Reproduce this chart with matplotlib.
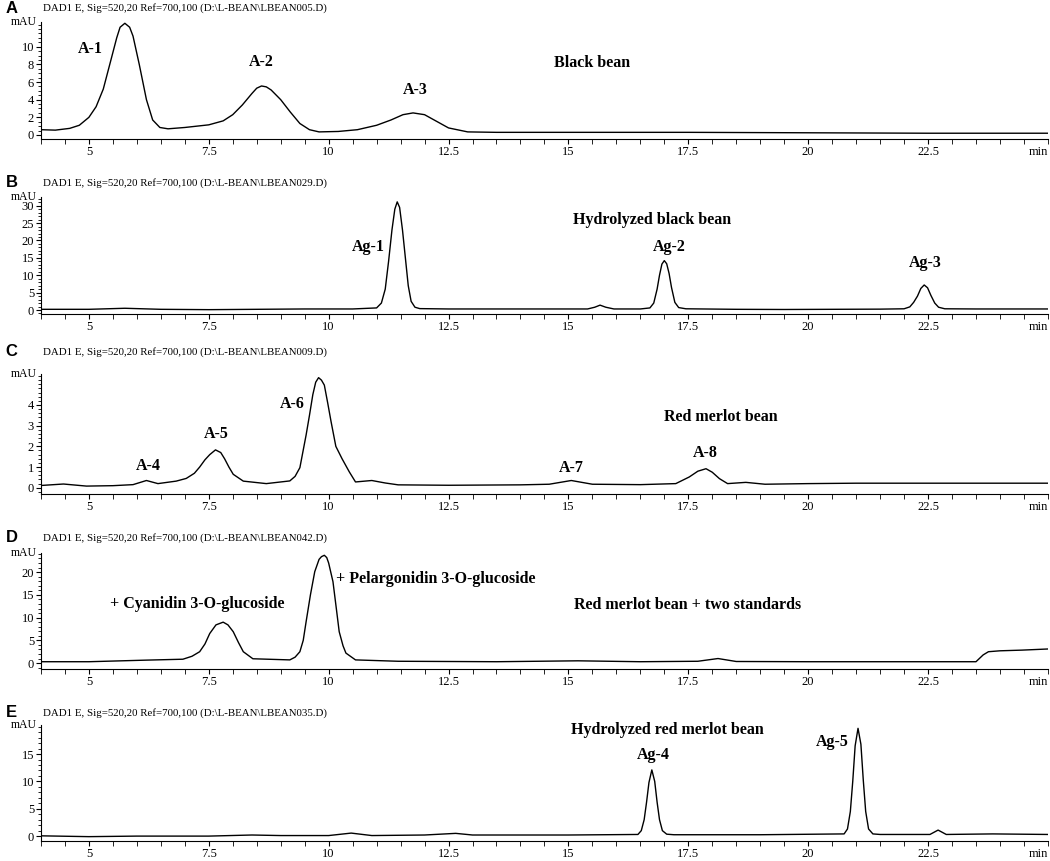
import matplotlib
matplotlib.use('Agg')
import matplotlib.pyplot as plt
from matplotlib.ticker import MultipleLocator

# Chromatogram traces (time in min, signal in mAU)
a_time = [4.0, 4.3, 4.6, 4.8, 5.0, 5.15, 5.3, 5.45, 5.58, 5.65, 5.75, 5.85, 5.92, 6.05, 6.2, 6.33, 6.48, 6.65,
          7.0, 7.5, 7.8, 8.0, 8.2, 8.4, 8.5, 8.6, 8.7, 8.8, 9.0, 9.2, 9.4, 9.6, 9.8, 10.2, 10.6, 11.0, 11.3,
          11.55, 11.76, 12.0, 12.2, 12.5, 12.9, 13.5, 15.0, 17.5, 20.0, 22.5, 25.0]
a_mau = [0.6, 0.55, 0.75, 1.1, 2.0, 3.2, 5.2, 8.3, 11.0, 12.2, 12.65, 12.2, 11.2, 8.0, 4.0, 1.7, 0.85, 0.7,
         0.85, 1.15, 1.6, 2.3, 3.4, 4.7, 5.3, 5.55, 5.45, 5.1, 4.0, 2.6, 1.3, 0.6, 0.35, 0.4, 0.6, 1.1, 1.7,
         2.3, 2.5, 2.3, 1.7, 0.8, 0.35, 0.3, 0.3, 0.3, 0.25, 0.2, 0.2]

b_time = [4.0, 5.0, 5.75, 6.5, 7.5, 8.5, 9.5, 10.5, 11.0, 11.1, 11.18, 11.25, 11.32, 11.38, 11.43, 11.48,
          11.54, 11.6, 11.66, 11.72, 11.8, 11.9, 12.5, 13.5, 14.5, 15.4, 15.55, 15.66, 15.78, 15.95, 16.5,
          16.7, 16.78, 16.85, 16.9, 16.95, 17.0, 17.05, 17.1, 17.15, 17.22, 17.3, 17.45, 18.5, 19.5, 20.5,
          21.5, 22.0, 22.12, 22.2, 22.28, 22.35, 22.42, 22.49, 22.56, 22.64, 22.72, 22.85, 23.5, 25.0]
b_mau = [0.2, 0.2, 0.5, 0.2, 0.1, 0.2, 0.3, 0.3, 0.6, 2.0, 6.0, 14.0, 23.0, 29.0, 31.1, 29.5,
         23.0, 15.0, 7.0, 2.5, 0.8, 0.4, 0.3, 0.3, 0.3, 0.3, 0.8, 1.4, 0.8, 0.3, 0.3,
         0.6, 2.0, 6.0, 10.0, 13.2, 14.2, 13.3, 10.5, 6.5, 2.2, 0.7, 0.35, 0.2, 0.15, 0.2,
         0.25, 0.35, 0.9, 2.2, 4.0, 6.2, 7.2, 6.4, 4.2, 2.0, 0.8, 0.35, 0.3, 0.3]

c_time = [4.0, 4.47, 4.95, 5.5, 5.92, 6.2, 6.44, 6.82, 7.03, 7.2, 7.31, 7.42, 7.52, 7.64, 7.75, 7.83, 7.92,
          8.01, 8.22, 8.7, 9.19, 9.3, 9.4, 9.53, 9.6, 9.67, 9.73, 9.79, 9.85, 9.91, 9.98, 10.05, 10.15,
          10.28, 10.43, 10.56, 10.9, 11.18, 11.45, 12.5, 14.0, 14.6, 15.06, 15.5, 16.5, 17.24, 17.52,
          17.7, 17.87, 18.0, 18.15, 18.32, 18.7, 19.1, 20.0, 21.0, 22.5, 25.0]
c_mau = [0.11, 0.18, 0.08, 0.1, 0.15, 0.35, 0.2, 0.32, 0.45, 0.7, 1.0, 1.35, 1.6, 1.83, 1.7, 1.4, 1.0,
         0.65, 0.32, 0.2, 0.33, 0.55, 0.97, 2.55, 3.5, 4.5, 5.1, 5.32, 5.2, 4.96, 4.1, 3.2, 2.0,
         1.4, 0.77, 0.28, 0.35, 0.23, 0.14, 0.12, 0.14, 0.17, 0.35, 0.17, 0.15, 0.2, 0.52,
         0.8, 0.92, 0.75, 0.44, 0.2, 0.26, 0.17, 0.2, 0.22, 0.22, 0.22]

d_time = [4.0, 5.0, 6.2, 6.96, 7.15, 7.31, 7.42, 7.52, 7.65, 7.8, 7.9, 8.01, 8.12, 8.22, 8.42, 9.19, 9.3,
          9.4, 9.47, 9.53, 9.62, 9.71, 9.8, 9.85, 9.91, 9.96, 10.0, 10.09, 10.16, 10.22, 10.3, 10.36,
          10.56, 11.45, 13.5, 15.2, 16.5, 17.7, 18.12, 18.5, 20.0, 23.5, 23.55, 23.65, 23.76, 24.0,
          24.46, 25.0]
d_mau = [0.3, 0.3, 0.65, 0.85, 1.5, 2.5, 4.2, 6.5, 8.4, 9.0, 8.4, 6.9, 4.5, 2.5, 0.95, 0.7, 1.3,
         2.5, 5.0, 9.1, 15.0, 20.1, 22.8, 23.4, 23.7, 23.2, 22.0, 17.9, 12.0, 6.9, 3.8, 2.2,
         0.7, 0.4, 0.3, 0.5, 0.3, 0.4, 1.0, 0.35, 0.3, 0.3, 0.8, 1.8, 2.5, 2.7,
         2.85, 3.1]

e_time = [4.0, 5.0, 6.0, 7.5, 8.4, 9.0, 10.0, 10.47, 10.9, 12.0, 12.65, 13.0, 15.0, 16.45, 16.52, 16.58,
          16.63, 16.68, 16.74, 16.8, 16.85, 16.9, 16.96, 17.05, 17.2, 19.0, 20.75, 20.82, 20.88, 20.93,
          20.98, 21.04, 21.1, 21.15, 21.2, 21.26, 21.35, 21.5, 22.4, 22.54, 22.71, 22.88, 23.85, 25.0]
e_mau = [0.05, -0.1, 0.0, 0.0, 0.2, 0.1, 0.1, 0.55, 0.1, 0.2, 0.5, 0.2, 0.2, 0.3, 1.0, 3.0,
         6.2, 9.8, 12.1, 10.0, 6.2, 3.0, 1.0, 0.35, 0.25, 0.25, 0.4, 1.3, 4.5, 10.0,
         16.5, 19.7, 16.8, 10.2, 4.5, 1.3, 0.4, 0.3, 0.3, 0.3, 1.1, 0.3, 0.4, 0.3]

files = ['LBEAN005', 'LBEAN029', 'LBEAN009', 'LBEAN042', 'LBEAN035']
letters = ['A', 'B', 'C', 'D', 'E']
ylims = [(-0.45, 12.8), (-1.15, 32.5), (-0.3, 5.5), (-1.3, 24.2), (-0.9, 20.3)]
ysteps = [(2, 0.5), (5, 1), (1, 0.2), (5, 1), (5, 1)]

# peak / sample labels: (text, time, mAU)
labels = [
    [('A-1', 5.04, 9.7), ('A-2', 8.6, 8.3), ('A-3', 11.8, 5.1), ('Black bean', 15.5, 8.2)],
    [('Ag-1', 10.82, 18.2), ('Hydrolyzed black bean', 16.75, 25.9), ('Ag-2', 17.1, 18.2), ('Ag-3', 22.44, 13.5)],
    [('A-4', 6.24, 1.07), ('A-5', 7.66, 2.59), ('A-6', 9.24, 4.03), ('A-7', 15.06, 0.95),
     ('A-8', 17.85, 1.67), ('Red merlot bean', 18.18, 3.44)],
    [('+ Cyanidin 3-O-glucoside', 7.27, 13.1), ('+ Pelargonidin 3-O-glucoside', 12.23, 18.5),
     ('Red merlot bean + two standards', 17.48, 12.7)],
    [('Hydrolyzed red merlot bean', 17.06, 19.4), ('Ag-4', 16.76, 14.9), ('Ag-5', 20.5, 17.2)],
]

traces = [(a_time, a_mau), (b_time, b_mau), (c_time, c_mau), (d_time, d_mau), (e_time, e_mau)]

# axes boxes in figure fraction (left, bottom, width, height)
boxes = [(0.039, 0.8386, 0.959, 0.1359),
         (0.039, 0.6353, 0.959, 0.1359),
         (0.039, 0.4263, 0.959, 0.1394),
         (0.039, 0.2230, 0.959, 0.1347),
         (0.039, 0.0232, 0.959, 0.1347)]
title_y = [0.9907, 0.7875, 0.5912, 0.3752, 0.1719]

serif = 'Liberation Serif'

fig = plt.figure(figsize=(10.5, 8.61), dpi=100)

for i in range(5):
    ax = fig.add_axes(boxes[i])
    t, y = traces[i]
    ax.plot(t, y, color='black', lw=1.0, solid_joinstyle='round')
    ax.set_xlim(4, 25)
    ax.set_ylim(*ylims[i])
    for s in ['top', 'right']:
        ax.spines[s].set_visible(False)
    ax.spines['left'].set_linewidth(0.8)
    ax.spines['bottom'].set_linewidth(0.8)
    ax.xaxis.set_minor_locator(MultipleLocator(0.5))
    ax.yaxis.set_minor_locator(MultipleLocator(ysteps[i][1]))
    ax.set_xticks([5, 7.5, 10, 12.5, 15, 17.5, 20, 22.5])
    ax.set_xticklabels(['5', '7.5', '10', '12.5', '15', '17.5', '20', '22.5'])
    yt = [v for v in range(0, int(ylims[i][1]), ysteps[i][0])]
    ax.set_yticks(yt)
    ax.set_yticklabels([str(v) for v in yt])
    ax.tick_params(axis='both', which='major', direction='out', length=3.5, width=0.8, labelsize=9, pad=1.5)
    ax.tick_params(axis='both', which='minor', direction='out', length=3.5, width=0.6)
    ax.tick_params(axis='y', which='minor', length=2.2)
    for lab in ax.get_xticklabels() + ax.get_yticklabels():
        lab.set_fontfamily(serif)
    ax.text(-0.004, 1.0, 'mAU', transform=ax.transAxes, ha='right', va='center',
            fontsize=8.5, family=serif)
    ax.annotate('min', xy=(1.0, 0.0), xycoords='axes fraction', xytext=(0, -5),
                textcoords='offset points', ha='right', va='top', fontsize=9, family=serif)
    for txt, tx, ty in labels[i]:
        ax.text(tx, ty, txt, ha='center', va='center', fontsize=11.5, fontweight='bold', family=serif)
    fig.text(0.0055, title_y[i], letters[i], ha='left', va='center', fontsize=12,
             fontweight='bold', family='Liberation Sans')
    fig.text(0.041, title_y[i], 'DAD1 E, Sig=520,20 Ref=700,100 (D:\\L-BEAN\\' + files[i] + '.D)',
             ha='left', va='center', fontsize=7.8, family=serif)

fig.savefig('out.png', dpi=100)
